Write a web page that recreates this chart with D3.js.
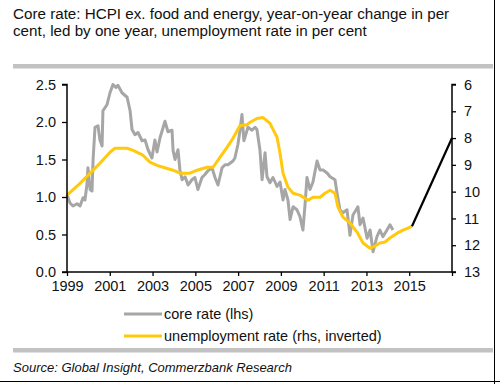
<!DOCTYPE html>
<html>
<head>
<meta charset="utf-8">
<script src="https://cdn.jsdelivr.net/npm/d3@7"></script>
<style>
  body { margin: 0; background: #fff; }
  svg { display: block; font-family: "Liberation Sans", Arial, sans-serif; }
</style>
</head>
<body>
<svg width="500" height="384"></svg>
<script>
// core rate (lhs), led by one year
var coreYears = [1999.00,1999.14,1999.28,1999.47,1999.61,1999.75,1999.84,1999.93,1999.98,2000.08,2000.17,2000.22,2000.31,2000.45,2000.54,2000.64,2000.68,2000.87,2001.01,2001.15,2001.29,2001.38,2001.57,2001.81,2001.95,2002.04,2002.18,2002.32,2002.51,2002.65,2002.79,2002.97,2003.11,2003.21,2003.35,2003.58,2003.72,2003.91,2003.96,2004.05,2004.19,2004.28,2004.38,2004.52,2004.66,2004.84,2004.98,2005.12,2005.31,2005.45,2005.59,2005.78,2005.92,2006.06,2006.25,2006.39,2006.53,2006.76,2006.85,2006.99,2007.09,2007.18,2007.27,2007.46,2007.65,2007.79,2007.88,2008.02,2008.12,2008.26,2008.35,2008.49,2008.63,2008.82,2008.96,2009.10,2009.19,2009.33,2009.43,2009.57,2009.75,2009.89,2010.03,2010.13,2010.22,2010.36,2010.50,2010.69,2010.83,2010.97,2011.16,2011.30,2011.53,2011.62,2011.76,2011.90,2012.09,2012.23,2012.37,2012.60,2012.70,2012.84,2013.03,2013.17,2013.31,2013.49,2013.63,2013.77,2013.96,2014.10,2014.24]
var coreValues = [1.03,0.92,0.88,0.91,0.88,0.99,0.96,1.16,1.39,1.10,1.08,1.50,1.93,1.95,1.76,1.68,2.15,2.23,2.39,2.50,2.46,2.49,2.39,2.33,2.15,1.90,1.83,1.86,1.75,1.76,1.63,1.52,1.76,1.60,1.79,2.01,1.87,1.89,1.62,1.50,1.63,1.36,1.23,1.27,1.16,1.23,1.26,1.10,1.26,1.30,1.35,1.39,1.26,1.16,1.39,1.43,1.43,1.48,1.52,1.70,1.89,2.10,1.75,1.93,1.89,1.93,1.90,1.63,1.23,1.59,1.27,1.19,1.26,1.14,1.20,0.96,1.10,0.96,0.70,0.87,0.83,0.74,0.56,0.90,1.26,1.10,1.20,1.48,1.36,1.36,1.32,1.27,1.23,1.06,0.83,0.79,0.83,0.49,0.76,0.87,0.63,0.72,0.45,0.56,0.27,0.47,0.56,0.47,0.56,0.63,0.56]

// unemployment rate (rhs, inverted)
var unempYears = [1999.00,1999.61,2000.08,2000.54,2001.01,2001.24,2001.81,2002.09,2002.55,2002.88,2003.21,2003.49,2003.96,2004.28,2004.75,2005.08,2005.55,2005.83,2006.15,2006.48,2006.76,2007.09,2007.42,2007.56,2007.88,2008.16,2008.49,2008.82,2008.96,2009.10,2009.33,2009.57,2009.89,2010.27,2010.50,2010.83,2011.06,2011.30,2011.53,2011.67,2011.90,2012.23,2012.56,2012.84,2013.17,2013.40,2013.63,2013.87,2014.10,2014.43,2014.71,2014.94,2015.13]
var unempValues = [10.13,9.69,9.31,8.94,8.53,8.38,8.38,8.46,8.64,8.90,9.02,9.09,9.20,9.31,9.31,9.20,9.09,9.09,8.72,8.35,8.01,7.53,7.50,7.41,7.27,7.23,7.45,7.97,8.57,9.31,9.83,10.06,10.13,10.32,10.21,10.21,10.06,9.95,10.06,10.58,10.95,11.17,11.51,11.92,12.11,12.03,11.92,11.88,11.73,11.55,11.44,11.36,11.29]

// forecast segment (black)
var forecastYears = [2015.13, 2017.0]
var forecastValues = [11.29, 8.0]

var xTicks = [1999, 2001, 2003, 2005, 2007, 2009, 2011, 2013, 2015, 2017]
var xTickLabels = ['1999', '2001', '2003', '2005', '2007', '2009', '2011', '2013', '2015', '']
var leftTicks = [0, 0.5, 1.0, 1.5, 2.0, 2.5]
var rightTicks = [6, 7, 8, 9, 10, 11, 12, 13]

var titleLines = ['Core rate: HCPI ex. food and energy, year-on-year change in per',
                  'cent, led by one year, unemployment rate in per cent']
var legendLabels = ['core rate (lhs)', 'unemployment rate (rhs, inverted)']
var sourceText = 'Source: Global Insight, Commerzbank Research'

var grey = '#a6a6a6'
var yellow = '#ffc90e'

var svg = d3.select('svg')

var x = d3.scaleLinear().domain([1999, 2017]).range([67, 452])
var yL = d3.scaleLinear().domain([0, 2.5]).range([272, 84.5])
var yR = d3.scaleLinear().domain([6, 13]).range([84.5, 272])

// title
svg.selectAll('text.title')
    .data(titleLines)
    .join('text')
    .attr('class', 'title')
    .attr('x', 13)
    .attr('y', (d, i) => 18.5 + i * 17)
    .attr('font-size', 15.2)
    .attr('fill', '#111')
    .text(d => d)

// grey bands
svg.append('rect').attr('x', 13).attr('y', 64).attr('width', 480).attr('height', 4.5).attr('fill', '#c2c2c2')
svg.append('rect').attr('x', 13).attr('y', 348).attr('width', 480).attr('height', 4.5).attr('fill', '#c2c2c2')

// frame edges
svg.append('line').attr('x1', 494.5).attr('x2', 494.5).attr('y1', 0).attr('y2', 384).attr('stroke', '#000').attr('stroke-width', 1)
svg.append('line').attr('x1', 0).attr('x2', 500).attr('y1', 381.5).attr('y2', 381.5).attr('stroke', '#000').attr('stroke-width', 1)

// lines
var coreLine = d3.line().x((d, i) => x(coreYears[i])).y(d => yL(d))
var unempLine = d3.line().x((d, i) => x(unempYears[i])).y(d => yR(d))
var fcLine = d3.line().x((d, i) => x(forecastYears[i])).y(d => yR(d))

svg.append('path').attr('d', coreLine(coreValues))
    .attr('fill', 'none').attr('stroke', grey).attr('stroke-width', 3).attr('stroke-linejoin', 'round')
svg.append('path').attr('d', unempLine(unempValues))
    .attr('fill', 'none').attr('stroke', yellow).attr('stroke-width', 3).attr('stroke-linejoin', 'round')
svg.append('path').attr('d', fcLine(forecastValues))
    .attr('fill', 'none').attr('stroke', '#000').attr('stroke-width', 2.2)

// axes
var axisL = d3.axisLeft(yL).tickValues(leftTicks).tickFormat(d3.format('.1f')).tickSize(5).tickPadding(6)
var axisR = d3.axisRight(yR).tickValues(rightTicks).tickFormat(d3.format('d')).tickSize(4).tickPadding(8)
var axisB = d3.axisBottom(x).tickValues(xTicks).tickFormat((d, i) => xTickLabels[i]).tickSize(4).tickPadding(5)

function styleAxis(g) {
    g.select('.domain').attr('stroke', '#000').attr('stroke-width', 1.5)
    g.selectAll('.tick line').attr('stroke', '#000').attr('stroke-width', 1.3)
    g.selectAll('.tick text').attr('fill', '#111').attr('font-size', 14.5)
        .attr('font-family', '"Liberation Sans", Arial, sans-serif')
}

svg.append('g').attr('transform', 'translate(67,0)').call(axisL).call(g => g.select('.domain').attr('d', 'M-5,272H0V84.5H-5')).call(styleAxis)
svg.append('g').attr('transform', 'translate(452,0)').call(axisR).call(g => g.select('.domain').attr('d', 'M4,84.5H0V272H4')).call(styleAxis)
svg.append('g').attr('transform', 'translate(0,272)').call(axisB).call(g => g.select('.domain').attr('d', 'M67,0H452')).call(styleAxis)

// legend
var legend = svg.append('g')
legend.selectAll('line')
    .data(legendLabels)
    .join('line')
    .attr('x1', 124).attr('x2', 162)
    .attr('y1', (d, i) => 314 + i * 22).attr('y2', (d, i) => 314 + i * 22)
    .attr('stroke', (d, i) => i === 0 ? grey : yellow)
    .attr('stroke-width', 3)
legend.selectAll('text')
    .data(legendLabels)
    .join('text')
    .attr('x', 164)
    .attr('y', (d, i) => 319 + i * 22)
    .attr('font-size', 14.5)
    .attr('fill', '#111')
    .text(d => d)

// source
svg.append('text')
    .attr('x', 13).attr('y', 372)
    .attr('font-size', 13)
    .attr('font-style', 'italic')
    .attr('fill', '#111')
    .text(sourceText)
</script>
</body>
</html>
